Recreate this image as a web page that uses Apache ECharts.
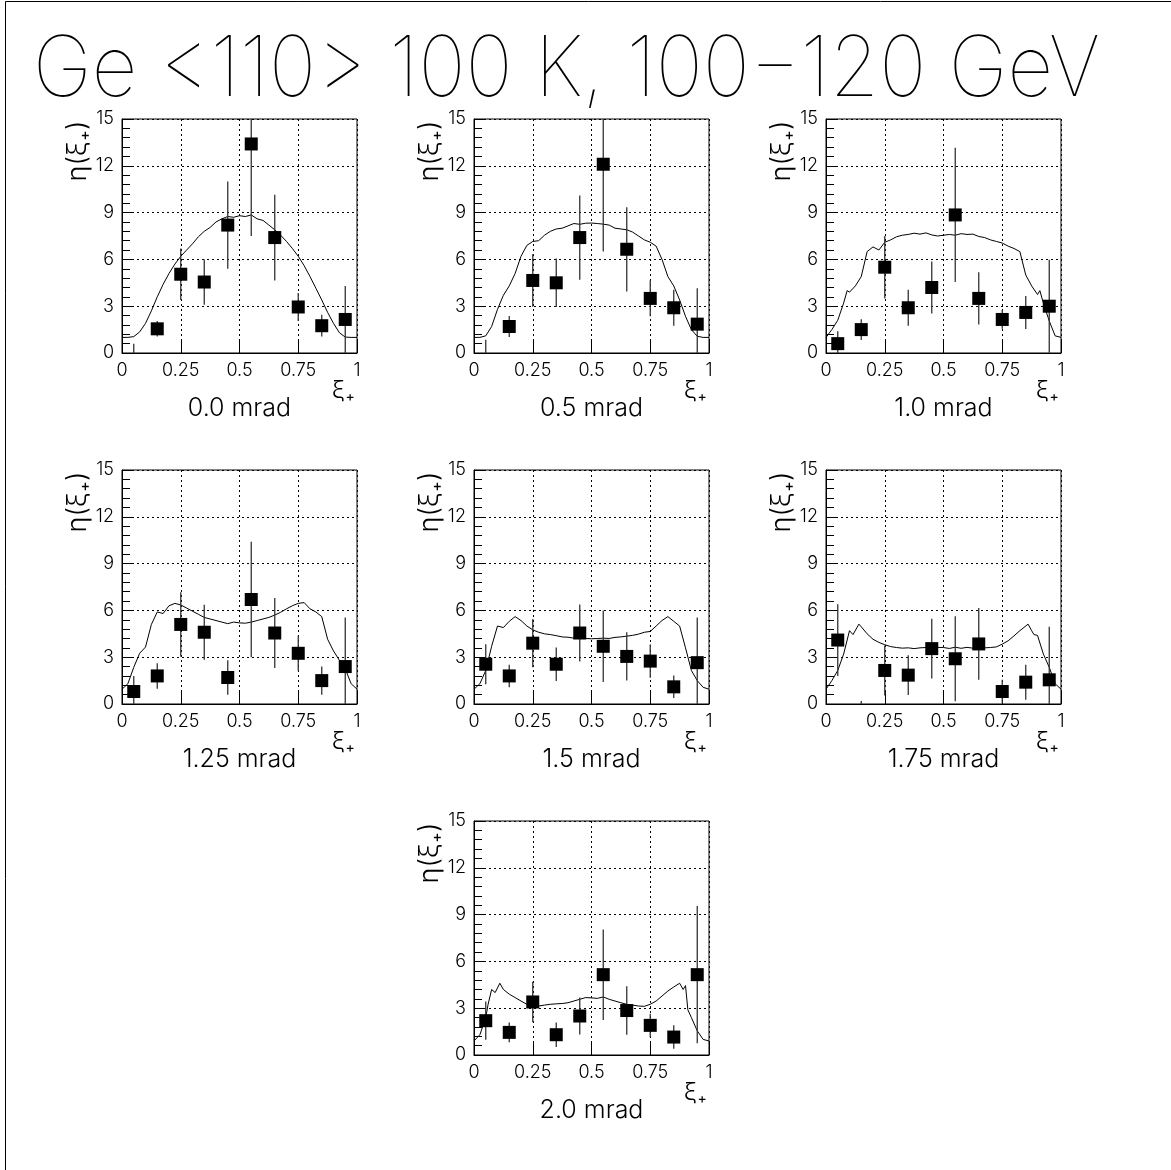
<!DOCTYPE html>
<html>
<head>
<meta charset="utf-8">
<title>Ge &lt;110&gt; 100 K, 100−120 GeV</title>
<script src="https://cdn.jsdelivr.net/npm/echarts@6/dist/echarts.min.js"></script>
<style>
  html, body { margin: 0; padding: 0; background: #fff; }
  #chart { width: 1171px; height: 1170px; }
</style>
</head>
<body>
<div id="chart"></div>
<script>
// ---- data ---------------------------------------------------------------
const mainTitle = 'Ge <110> 100 K, 100−120 GeV';
const panelTitles = ['0.0 mrad', '0.5 mrad', '1.0 mrad', '1.25 mrad', '1.5 mrad', '1.75 mrad', '2.0 mrad'];
const xTicks = [0, 0.25, 0.5, 0.75, 1];
const yTicks = [0, 3, 6, 9, 12, 15];
const yName = 'η(ξ₊)';
const xName = 'ξ₊';

// bin centres of the measured distributions
const xiBins = [0.05, 0.15, 0.25, 0.35, 0.45, 0.55, 0.65, 0.75, 0.85, 0.95];

// measured eta(xi+) and its error per bin, one pair per incidence angle
const eta00 = [0, 1.55, 5.05, 4.55, 8.2, 13.4, 7.4, 2.95, 1.75, 2.15];
const err00 = [0.6, 0.5, 1.65, 1.45, 2.8, 5.9, 2.75, 0.9, 0.7, 2.15];
const eta05 = [0, 1.7, 4.65, 4.5, 7.4, 12.1, 6.65, 3.5, 2.9, 1.85];
const err05 = [0.85, 0.67, 1.68, 1.55, 2.7, 5.6, 2.7, 1.15, 1.15, 2.3];
const eta10 = [0.6, 1.5, 5.5, 2.9, 4.2, 8.85, 3.5, 2.15, 2.6, 3.0];
const err10 = [0.8, 0.67, 2.0, 1.15, 1.67, 4.3, 1.68, 0.6, 1.06, 2.98];
const eta125 = [0.8, 1.8, 5.1, 4.6, 1.7, 6.7, 4.55, 3.25, 1.5, 2.4];
const err125 = [1.0, 0.82, 2.07, 1.76, 1.1, 3.7, 2.24, 1.12, 0.9, 3.15];
const eta15 = [2.55, 1.8, 3.9, 2.55, 4.55, 3.7, 3.05, 2.75, 1.1, 2.65];
const err15 = [1.28, 0.72, 1.55, 1.07, 1.83, 2.29, 1.55, 1.07, 0.72, 2.9];
const eta175 = [4.1, 0, 2.15, 1.85, 3.55, 2.9, 3.85, 0.8, 1.4, 1.55];
const err175 = [2.3, 0.2, 1.6, 1.28, 1.92, 2.72, 2.3, 0.75, 1.12, 3.4];
const eta20 = [2.2, 1.45, 3.4, 1.3, 2.5, 5.15, 2.85, 1.9, 1.15, 5.15];
const err20 = [1.23, 0.64, 1.3, 0.78, 1.18, 2.9, 1.55, 0.75, 0.75, 4.4];

// simulated distributions [xi+, eta]
const sim00 = [[0,1.0],[0.025,1.0],[0.05,1.05],[0.075,1.35],[0.1,1.9],[0.125,2.7],[0.15,3.6],[0.175,4.4],[0.2,5.1],[0.225,5.7],[0.25,6.2],[0.275,6.6],[0.3,7.0],[0.325,7.45],[0.35,7.8],[0.375,8.05],[0.4,8.4],[0.425,8.6],[0.45,8.75],[0.475,8.7],[0.5,8.8],[0.525,8.75],[0.55,8.85],[0.575,8.6],[0.6,8.5],[0.625,8.2],[0.65,7.9],[0.675,7.55],[0.7,7.15],[0.725,6.7],[0.75,6.2],[0.775,5.6],[0.8,4.9],[0.825,4.15],[0.85,3.4],[0.875,2.6],[0.9,1.9],[0.925,1.3],[0.95,1.02],[0.975,1.0],[1,1.0]];
const sim05 = [[0,1.0],[0.025,1.0],[0.05,1.1],[0.075,1.7],[0.1,2.8],[0.125,3.7],[0.15,4.3],[0.175,5.1],[0.2,6.2],[0.225,6.9],[0.25,7.15],[0.275,7.2],[0.3,7.55],[0.325,7.8],[0.35,7.95],[0.375,8.0],[0.4,8.15],[0.425,8.3],[0.45,8.25],[0.475,8.32],[0.5,8.33],[0.525,8.3],[0.55,8.26],[0.575,8.2],[0.6,8.0],[0.625,7.95],[0.65,7.9],[0.675,7.75],[0.7,7.5],[0.725,7.25],[0.75,7.1],[0.775,6.85],[0.8,6.0],[0.825,4.9],[0.85,4.3],[0.875,3.4],[0.9,2.35],[0.925,1.5],[0.95,1.07],[0.975,1.0],[1,1.0]];
const sim10 = [[0,1.0],[0.025,1.5],[0.05,2.1],[0.075,3.2],[0.09,4.0],[0.1,3.9],[0.125,4.3],[0.15,4.9],[0.175,6.5],[0.2,6.8],[0.225,6.6],[0.25,7.1],[0.275,7.25],[0.3,7.45],[0.325,7.55],[0.35,7.6],[0.375,7.68],[0.4,7.62],[0.425,7.7],[0.45,7.57],[0.475,7.5],[0.5,7.55],[0.525,7.6],[0.55,7.55],[0.575,7.65],[0.6,7.6],[0.625,7.62],[0.65,7.47],[0.675,7.4],[0.7,7.25],[0.725,7.15],[0.75,7.05],[0.775,6.85],[0.8,6.7],[0.825,6.5],[0.85,5.0],[0.875,4.3],[0.9,3.75],[0.91,4.0],[0.925,3.2],[0.95,2.05],[0.975,1.1],[1,1.0]];
const sim125 = [[0,0.95],[0.025,1.3],[0.05,2.35],[0.075,3.25],[0.1,3.65],[0.125,5.1],[0.15,5.9],[0.175,5.8],[0.2,6.3],[0.225,6.45],[0.25,6.35],[0.275,6.15],[0.3,5.95],[0.325,5.75],[0.35,5.55],[0.375,5.45],[0.4,5.35],[0.425,5.25],[0.45,5.15],[0.475,5.25],[0.5,5.2],[0.525,5.18],[0.55,5.25],[0.575,5.35],[0.6,5.45],[0.625,5.55],[0.65,5.7],[0.675,5.88],[0.7,6.1],[0.725,6.3],[0.75,6.45],[0.775,6.5],[0.8,6.1],[0.825,5.9],[0.85,5.6],[0.875,4.15],[0.9,3.4],[0.925,2.8],[0.95,2.25],[0.975,1.3],[1,0.95]];
const sim15 = [[0,0.95],[0.025,1.3],[0.05,2.15],[0.075,3.7],[0.1,5.0],[0.125,4.9],[0.15,5.3],[0.175,5.6],[0.2,5.35],[0.225,5.0],[0.25,4.75],[0.275,4.6],[0.3,4.5],[0.325,4.45],[0.35,4.38],[0.375,4.3],[0.4,4.28],[0.425,4.22],[0.45,4.2],[0.475,4.2],[0.5,4.18],[0.525,4.2],[0.55,4.22],[0.575,4.2],[0.6,4.27],[0.625,4.3],[0.65,4.35],[0.675,4.4],[0.7,4.48],[0.725,4.6],[0.75,4.65],[0.775,5.0],[0.8,5.35],[0.825,5.6],[0.85,5.3],[0.875,5.0],[0.9,3.6],[0.925,2.15],[0.95,1.5],[0.975,1.07],[1,0.95]];
const sim175 = [[0,0.95],[0.025,1.5],[0.05,2.15],[0.075,3.2],[0.1,4.7],[0.115,4.45],[0.14,5.12],[0.15,4.95],[0.175,4.5],[0.2,4.15],[0.225,3.95],[0.25,3.8],[0.275,3.68],[0.3,3.62],[0.325,3.58],[0.35,3.6],[0.375,3.55],[0.4,3.6],[0.425,3.62],[0.45,3.56],[0.475,3.63],[0.5,3.62],[0.525,3.56],[0.55,3.64],[0.575,3.57],[0.6,3.63],[0.625,3.58],[0.65,3.62],[0.675,3.6],[0.7,3.62],[0.725,3.66],[0.75,3.84],[0.775,4.05],[0.8,4.37],[0.825,4.7],[0.86,5.12],[0.875,4.7],[0.885,4.45],[0.9,4.4],[0.925,3.2],[0.95,2.35],[0.975,1.3],[1,0.95]];
const sim20 = [[0,0.9],[0.025,1.3],[0.05,2.4],[0.06,3.25],[0.075,4.2],[0.09,4.0],[0.11,4.6],[0.125,4.2],[0.15,3.9],[0.175,3.68],[0.2,3.46],[0.225,3.25],[0.25,3.18],[0.275,3.14],[0.3,3.2],[0.325,3.25],[0.35,3.28],[0.375,3.3],[0.4,3.35],[0.425,3.46],[0.45,3.57],[0.475,3.68],[0.5,3.66],[0.525,3.63],[0.55,3.72],[0.575,3.57],[0.6,3.46],[0.625,3.35],[0.65,3.25],[0.675,3.2],[0.7,3.14],[0.725,3.12],[0.75,3.25],[0.775,3.46],[0.8,3.78],[0.825,4.1],[0.85,4.36],[0.875,4.6],[0.89,4.2],[0.9,4.45],[0.91,2.9],[0.925,2.4],[0.95,1.55],[0.975,1.0],[1,0.9]];

const measured = [eta00, eta05, eta10, eta125, eta15, eta175, eta20];
const errors = [err00, err05, err10, err125, err15, err175, err20];
const simulated = [sim00, sim05, sim10, sim125, sim15, sim175, sim20];

// ---- layout -------------------------------------------------------------
const PW = 235, PH = 234;
const panelPos = [[122, 119], [474, 119], [826, 119], [122, 470], [474, 470], [826, 470], [474, 821]];
const FONT = 'Inter, "DejaVu Sans", sans-serif';
const THIN = 100, LIGHT = 300;

const chart = echarts.init(document.getElementById('chart'), null, { renderer: 'canvas' });

const grids = [], xAxes = [], yAxes = [], series = [], graphics = [];

// page frame (left and top edges)
graphics.push({
  type: 'rect', silent: true,
  shape: { x: 5.5, y: 1.5, width: 1200, height: 1200 },
  style: { fill: 'none', stroke: '#000', lineWidth: 1 }
});

// main heading, fitted horizontally to the page width
(function () {
  const size = 84;
  const font = THIN + ' ' + size + 'px ' + FONT;
  const ctx = document.createElement('canvas').getContext('2d');
  ctx.font = font;
  const w = ctx.measureText(mainTitle).width;
  graphics.push({
    type: 'text', silent: true,
    x: 33, y: 71, scaleX: 1067 / w, scaleY: 1,
    style: { text: mainTitle, x: 0, y: 0, font: font, fill: '#000', textAlign: 'left', textVerticalAlign: 'middle' }
  });
})();

panelTitles.forEach(function (name, i) {
  const left = panelPos[i][0], top = panelPos[i][1];
  grids.push({
    left: left, top: top, width: PW, height: PH,
    show: true, borderColor: '#000', borderWidth: 1, backgroundColor: 'transparent',
    containLabel: false, outerBoundsMode: 'none'
  });
  xAxes.push({
    gridIndex: i, type: 'value',
    min: xTicks[0], max: xTicks[xTicks.length - 1], interval: xTicks[1] - xTicks[0],
    axisLine: { show: true, onZero: false, lineStyle: { color: '#000', width: 1 } },
    axisTick: { show: true, inside: true, length: 12, lineStyle: { color: '#000', width: 1 } },
    splitLine: { show: true, lineStyle: { color: '#000', width: 1, type: [2, 3] } },
    axisLabel: { color: '#000', fontSize: 18, fontFamily: FONT, fontWeight: LIGHT, margin: 9, showMinLabel: true, showMaxLabel: true }
  });
  yAxes.push({
    gridIndex: i, type: 'value',
    min: yTicks[0], max: yTicks[yTicks.length - 1], interval: yTicks[1] - yTicks[0],
    axisLine: { show: true, onZero: false, lineStyle: { color: '#000', width: 1 } },
    axisTick: { show: true, inside: true, length: 11, lineStyle: { color: '#000', width: 1 } },
    minorTick: { show: true, splitNumber: 5, length: 8, lineStyle: { color: '#000', width: 1 } },
    splitLine: { show: true, lineStyle: { color: '#000', width: 1, type: [2, 3] } },
    axisLabel: { color: '#000', fontSize: 18, fontFamily: FONT, fontWeight: LIGHT, margin: 8 }
  });

  // simulated curve
  series.push({
    type: 'line', xAxisIndex: i, yAxisIndex: i,
    data: simulated[i], showSymbol: false, smooth: false, silent: true,
    lineStyle: { color: '#000', width: 1 }, z: 2, animation: false
  });

  // error bars
  const pts = xiBins.map(function (x, k) { return [x, measured[i][k], errors[i][k]]; });
  series.push({
    type: 'custom', xAxisIndex: i, yAxisIndex: i, clip: true, silent: true, animation: false, z: 3,
    data: pts,
    renderItem: function (params, api) {
      const x = api.value(0), y = api.value(1), e = api.value(2);
      const p1 = api.coord([x, Math.max(0, y - e)]);
      const p2 = api.coord([x, y + e]);
      return {
        type: 'line',
        shape: { x1: p1[0], y1: p1[1], x2: p2[0], y2: p2[1] },
        style: { stroke: '#333', lineWidth: 1.3 }
      };
    }
  });

  // measured points
  series.push({
    type: 'scatter', xAxisIndex: i, yAxisIndex: i, clip: true, silent: true, animation: false, z: 4,
    data: pts.map(function (p) { return [p[0], p[1]]; }),
    symbol: 'rect',
    symbolSize: function (v) { return v[1] > 0 ? 13 : 0; },
    itemStyle: { color: '#000', opacity: 1 }
  });

  // axis titles and panel caption
  graphics.push({
    type: 'text', silent: true, x: left - 44, y: top + 32, rotation: Math.PI / 2,
    style: { text: yName, font: LIGHT + ' 27px ' + FONT, fill: '#000', textAlign: 'center', textVerticalAlign: 'middle' }
  });
  graphics.push({
    type: 'text', silent: true, x: left + PW - 2, y: top + PH + 38,
    style: { text: xName, font: LIGHT + ' 24px ' + FONT, fill: '#000', textAlign: 'right', textVerticalAlign: 'middle' }
  });
  graphics.push({
    type: 'text', silent: true, x: left + PW / 2, y: top + PH + 55,
    style: { text: name, font: LIGHT + ' 25px ' + FONT, fill: '#000', textAlign: 'center', textVerticalAlign: 'middle' }
  });
});

chart.setOption({
  backgroundColor: '#fff',
  animation: false,
  grid: grids,
  xAxis: xAxes,
  yAxis: yAxes,
  series: series,
  graphic: graphics
});
</script>
</body>
</html>
